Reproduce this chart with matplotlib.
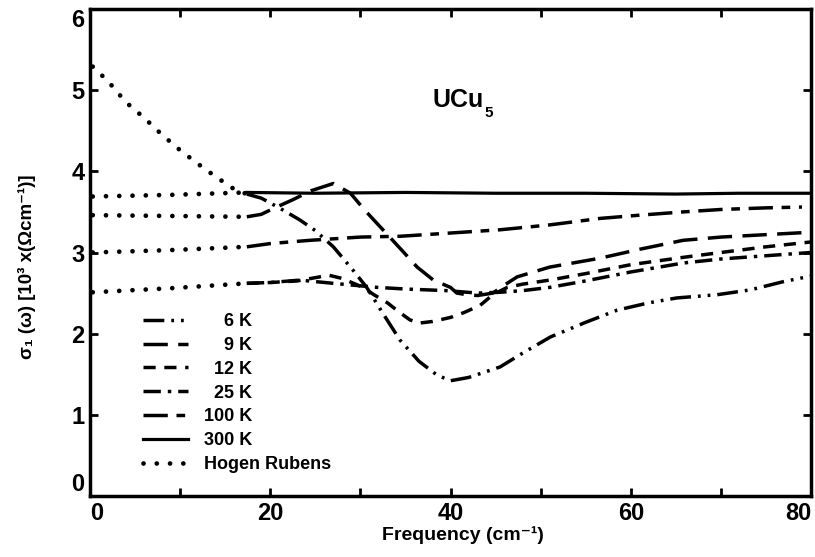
import matplotlib
matplotlib.use('Agg')
import matplotlib.pyplot as plt

plt.rcParams['font.family'] = ['Liberation Sans', 'DejaVu Sans']
plt.rcParams['font.weight'] = 'bold'

# Hagen-Rubens extrapolations (dotted)
hr_x = [0.3, 9, 17.4]
hr_300 = [3.69, 3.71, 3.74]
hr_9 = [3.46, 3.45, 3.44]
hr_100 = [3.00, 3.03, 3.07]
hr_25 = [2.51, 2.56, 2.62]
hr6_x = [0.3, 2, 4, 6, 8, 10, 12, 14, 16, 17.4]
hr6_y = [5.29, 5.11, 4.85, 4.66, 4.45, 4.26, 4.09, 3.93, 3.78, 3.72]

# measured curves
x_6 = [17.4, 19, 21, 23.3, 25, 27, 29.2, 30.7, 32.5, 34.4, 36.5, 38.5, 40, 42,
       45.5, 48, 51.1, 55, 58.5, 62, 65.1, 69.6, 73.3, 76.9, 80]
y_6 = [3.72, 3.67, 3.55, 3.40, 3.27, 3.07, 2.78, 2.57, 2.25, 1.92, 1.66, 1.49,
       1.42, 1.46, 1.59, 1.76, 1.96, 2.14, 2.29, 2.38, 2.44, 2.48, 2.54, 2.64, 2.71]

x_9 = [17.4, 19, 20.5, 22.5, 24.5, 27, 28.9, 30.5, 32.5, 34.5, 36.3, 38.1, 40,
       40.7, 41.8, 43, 44.7, 46, 47.4, 51, 56.6, 61, 65.8, 70, 75, 80]
y_9 = [3.44, 3.47, 3.55, 3.65, 3.76, 3.85, 3.73, 3.52, 3.28, 3.04, 2.82, 2.66,
       2.57, 2.50, 2.48, 2.47, 2.50, 2.60, 2.70, 2.82, 2.93, 3.04, 3.15, 3.19, 3.22, 3.25]

x_12 = [17.4, 20, 23, 25, 26.5, 28, 30.3, 31.5, 33, 34.5, 35.5, 36.5, 38, 40,
        41.5, 43.3, 44.7, 46.3, 48, 51, 55, 60, 65.8, 70, 75, 80]
y_12 = [2.62, 2.63, 2.65, 2.69, 2.72, 2.68, 2.57, 2.48, 2.38, 2.25, 2.17, 2.13,
        2.15, 2.20, 2.26, 2.35, 2.48, 2.57, 2.61, 2.66, 2.74, 2.85, 2.94, 3.00, 3.07, 3.13]

x_25 = [17.4, 20, 23.3, 27, 31.9, 35, 39.6, 43, 45.5, 48, 51, 55, 60, 65.8, 70, 75, 80]
y_25 = [2.62, 2.63, 2.66, 2.62, 2.57, 2.55, 2.53, 2.50, 2.51, 2.53, 2.57, 2.65,
        2.76, 2.87, 2.92, 2.96, 3.00]

x_100 = [17.4, 20, 24.4, 30, 34.4, 40, 45.5, 51, 56.6, 61, 65.8, 70, 75, 79]
y_100 = [3.07, 3.11, 3.15, 3.19, 3.20, 3.24, 3.28, 3.34, 3.42, 3.46, 3.50, 3.53, 3.55, 3.56]

x_300 = [17.4, 25, 35, 45, 55, 65, 72, 80]
y_300 = [3.74, 3.73, 3.74, 3.73, 3.73, 3.72, 3.73, 3.73]

labels = ['\u2007\u20076 K', '\u2007\u20079 K', '\u200712 K', '\u200725 K',
          '100 K', '300 K', 'Hogen Rubens']

fig = plt.figure(figsize=(8.15, 5.57), dpi=100)
ax = fig.add_axes([90 / 815, 1 - 496 / 557, 721 / 815, 487 / 557])

lw = 2.5
dot = dict(color='black', lw=3.4, linestyle=(0, (0.01, 2.8)), dash_capstyle='round')
ax.plot(hr_x, hr_300, **dot)
ax.plot(hr_x, hr_9, **dot)
ax.plot(hr_x, hr_100, **dot)
ax.plot(hr_x, hr_25, **dot)
l_hr, = ax.plot(hr6_x, hr6_y, **dot)

l6, = ax.plot(x_6, y_6, color='black', lw=lw, linestyle=(0, (6, 2, 0.8, 2, 0.8, 2)))
l9, = ax.plot(x_9, y_9, color='black', lw=lw, linestyle=(0, (7, 3)))
l12, = ax.plot(x_12, y_12, color='black', lw=lw, linestyle=(0, (3.5, 2.5)))
l25, = ax.plot(x_25, y_25, color='black', lw=lw, linestyle=(0, (5, 2, 1, 2)))
l100, = ax.plot(x_100, y_100, color='black', lw=lw, linestyle=(0, (7, 2.5, 2.5, 2.5)))
l300, = ax.plot(x_300, y_300, color='black', lw=2.3)

ax.set_xlim(0, 80)
ax.set_ylim(0, 6)
ax.set_xticks([0, 20, 40, 60, 80])
ax.set_xticks([10, 30, 50, 70], minor=True)
ax.set_yticks([0, 1, 2, 3, 4, 5, 6])
ax.tick_params(which='both', direction='in', top=True, right=True,
               length=6, width=2, labelsize=17, pad=4)
for s in ax.spines.values():
    s.set_linewidth(2.5)

# end labels sit inside the frame, as in the reference
xt = ax.get_xticklabels()
xt[0].set_ha('left')
xt[-1].set_ha('right')
yt = ax.get_yticklabels()
yt[0].set_va('bottom')
yt[-1].set_va('top')

ax.set_xlabel('Frequency (cm\u207b\u00b9)', fontsize=14, fontweight='bold')
ax.xaxis.set_label_coords((463 - 90) / 721, -0.062)
ax.set_ylabel('\u03c3\u2081 (\u03c9) [10\u00b3 x(\u03a9cm\u207b\u00b9)]', fontsize=13.5,
              fontweight='bold')
ax.yaxis.set_label_coords(-0.075, 0.47)

t = ax.text(40.8, 4.88, 'UCu', fontsize=18, fontweight='bold', ha='center', va='center')
ax.annotate('5', xy=(1, 0), xycoords=t, xytext=(1, 4), textcoords='offset points',
            fontsize=11, fontweight='bold', ha='left', va='top')

ax.legend([l6, l9, l12, l25, l100, l300, l_hr], labels,
          loc='upper left', bbox_to_anchor=((143 - 90) / 721, (496 - 313) / 487),
          frameon=False, fontsize=13, handlelength=2.5, handletextpad=0.9,
          labelspacing=0.38, borderpad=0, borderaxespad=0)

fig.savefig('out.png', dpi=100)
